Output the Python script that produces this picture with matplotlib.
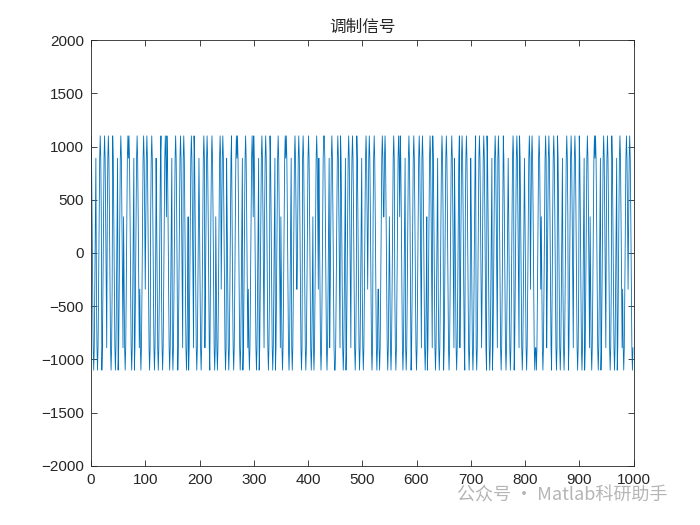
import numpy as np
import matplotlib
matplotlib.use("Agg")
import matplotlib.pyplot as plt

# one carrier cycle (10 samples) - sample levels
carrier_cycle = [1100, 890, 340, -340, -890, -1100, -890, -340, 340, 890]
# per-cycle phase offset (in samples) of the modulated carrier (estimated)
cycle_phase = [0, 3, 5, 8, 0, 5, 2, 0, 5, 3,
               7, 8, 1, 3, 0, 4, 5, 9, 5, 0,
               2, 6, 7, 2, 7, 1, 2, 0, 5, 3,
               0, 5, 8, 0, 5, 2, 0, 4, 7, 9,
               9, 4, 1, 0, 6, 5, 0, 5, 8, 0,
               3, 7, 8, 3, 8, 2, 3, 0, 4, 5,
               5, 9, 5, 0, 3, 5, 5, 1, 6, 8,
               1, 4, 6, 0, 5, 9, 0, 2, 5, 0,
               2, 7, 4, 2, 6, 7, 0, 3, 5, 8,
               0, 5, 2, 0, 5, 8, 0, 5, 3, 7]

xticks = [0, 100, 200, 300, 400, 500, 600, 700, 800, 900, 1000]
yticks = [-2000, -1500, -1000, -500, 0, 500, 1000, 1500, 2000]
title = "调制信号"
watermark = "公众号 · Matlab科研助手"

cyc = np.array(carrier_cycle, dtype=float)
signal = np.concatenate([np.roll(cyc, -p) for p in cycle_phase])
t = np.arange(len(signal))

plt.rcParams['font.family'] = ['Liberation Sans', 'Noto Sans CJK SC', 'DejaVu Sans']

fig = plt.figure(figsize=(7, 5.25), dpi=100)
ax = fig.add_axes([0.13, 0.1124, 0.775, 0.8114])
ax.plot(t, signal, color='#0072BD', linewidth=0.6)
ax.set_xlim(0, 1000)
ax.set_ylim(-2000, 2000)
ax.set_xticks(xticks)
ax.set_yticks(yticks)
ax.tick_params(direction='in', top=True, right=True, labelsize=11, length=4,
               width=0.6, colors='#262626', labelcolor='#262626', pad=5)
for s in ax.spines.values():
    s.set_linewidth(0.6)
    s.set_color('#262626')
ax.set_title(title, fontsize=12, color='#262626',
             family=['Noto Sans CJK SC', 'DejaVu Sans'], pad=6)
fig.text(0.653, 0.057, watermark, fontsize=13, color='#b5b5b5',
         family=['Noto Sans CJK SC', 'DejaVu Sans'], ha='left', va='center')
fig.savefig('out.png', dpi=100)
